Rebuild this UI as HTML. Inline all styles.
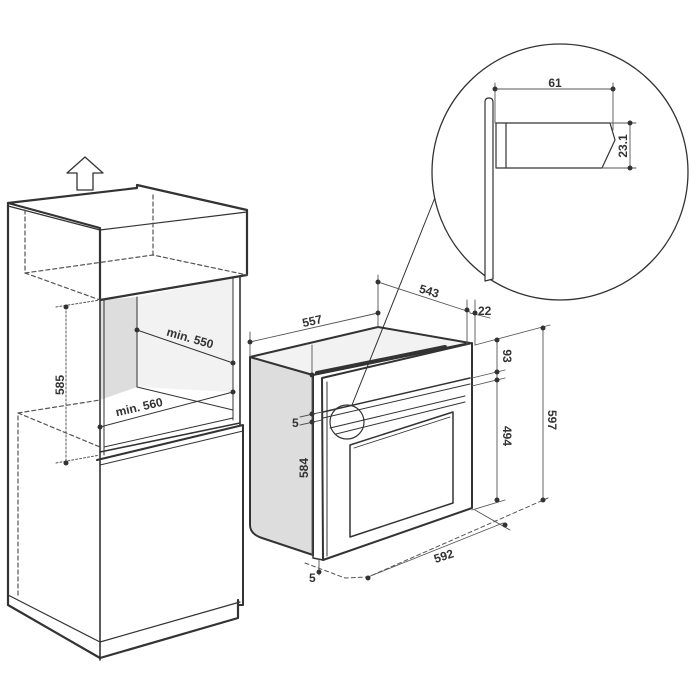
<!DOCTYPE html>
<html><head><meta charset="utf-8"><style>
html,body{margin:0;padding:0;background:#fff;}
svg{display:block;}
text{font-family:"Liberation Sans",Arial,sans-serif;font-weight:bold;fill:#333;font-size:12px;}
</style></head><body>
<svg width="700" height="700" viewBox="0 0 700 700" xmlns="http://www.w3.org/2000/svg">
<g fill="none" stroke="#333" stroke-linejoin="round" stroke-linecap="round">
<!-- up arrow -->
<path d="M85,157 L103,173 L93,173 L93,190 L77,190 L77,173 L67,173 Z" stroke-width="1.3"/>

<!-- cabinet -->
<!-- cavity fills -->
<path d="M100,300 L137,297 L137,387 L100,400 Z" fill="#ddd" stroke="none"/>
<path d="M137,297 L233,278 L233,392 L137,387 Z" fill="#f2f2f2" stroke="none"/>
<!-- top box -->
<path d="M8,203 L137,188 L137,185 L247,210 L247,275 L100,300 L100,228 Z" fill="#fff" stroke-width="2.2"/>
<path d="M8,206 L100,230 L247,212" stroke-width="1.2"/>
<path d="M100,228 L100,300" stroke-width="1.5"/>
<!-- left side -->
<path d="M8,203 L8,605 L100,658 L238,618 L238,600" stroke-width="2.2"/>
<path d="M8,595 L100,642 L240,602" stroke-width="1.2"/>
<!-- mid frame -->
<path d="M100,300 L100,660" stroke-width="1.6"/>
<path d="M104,300 L104,455" stroke-width="1"/>
<path d="M240,276 L240,425" stroke-width="1.6"/>
<path d="M233,278 L233,420" stroke-width="1"/>
<path d="M137,297 L137,387" stroke-width="1"/>
<path d="M137,387 L233,410" stroke-width="1"/>
<path d="M100,452 L240,423" stroke-width="1.6"/>
<path d="M104,447 L233,418" stroke-width="1"/>
<!-- lower door -->
<path d="M97,460 L243,425 L243,605 L238,605" stroke-width="2"/>
<path d="M100,465 L243,431" stroke-width="1"/>
<!-- hidden lines -->
<g stroke-width="1.2" stroke-dasharray="4,3" stroke="#555">
<path d="M25,210 L25,273 L100,300"/>
<path d="M25,273 L153,255 L247,275"/>
<path d="M153,195 L153,255"/>
<path d="M18,595 L18,413 L100,400"/>
<path d="M18,413 L100,447"/>
</g>
<!-- 585 -->
<g stroke-width="1" stroke-dasharray="2,2" stroke="#555">
<path d="M66,307 L66,463"/>
<path d="M56,307 L100,300"/>
<path d="M56,463 L100,455"/>
</g>
<g fill="#333" stroke="none">
<circle cx="66" cy="307" r="2.5"/><circle cx="66" cy="463" r="2.5"/>
<circle cx="137" cy="330" r="2.5"/><circle cx="233" cy="363" r="2.5"/>
<circle cx="100" cy="427" r="2.5"/><circle cx="233" cy="392" r="2.5"/>
</g>
<path d="M137,330 L233,363" stroke-width="1"/>
<path d="M100,427 L233,392" stroke-width="1"/>

<!-- oven -->
<path d="M250,357 L313,375 L313,555 L262,538 Q250,534 250,525 Z" fill="#ddd" stroke-width="2"/>
<path d="M250,357 L378,327 L470,343 L313,375 Z" fill="#f2f2f2" stroke-width="2"/>
<path d="M317,373 L445,347" stroke-width="4"/>
<path d="M313,375 L313,558 L323,560" stroke-width="1.5"/>
<path d="M322,378 L472,343 L472,508 L323,560 Z" fill="#fff" stroke-width="2"/>
<path d="M327,382 L327,556" stroke-width="1"/>
<path d="M323,412 L470,378" stroke-width="1.5"/>
<path d="M323,418 L470,384" stroke-width="1"/>
<path d="M330,428 L465,396" stroke-width="1"/>
<path d="M336,434 L465,402" stroke-width="1"/>
<path d="M350,445 L453,412 L453,503 L350,537 Z" stroke-width="1.5"/>
<path d="M354,448 L450,417" stroke-width="0.8"/>
<circle cx="347" cy="422" r="17" stroke-width="1.2" fill="none"/>
<path d="M352,405 L436,195" stroke-width="1"/>

<!-- oven dimensions -->
<g stroke-width="0.9" stroke="#555">
<path d="M250,332 L250,357"/>
<path d="M250,342 L378,313"/>
<path d="M378,275 L378,327"/>
<path d="M378,282 L470,312"/>
<path d="M467,300 L467,345"/>
<path d="M475,300 L475,345"/>
<path d="M470,313 L490,318"/>
<path d="M475,345 L550,325"/>
<path d="M497,340 L497,500"/>
<path d="M543,328 L543,500"/>
<path d="M472,378 L505,370"/>
<path d="M472,386 L505,378"/>
<path d="M472,510 L505,500"/>
<path d="M312,345 L312,555"/>
<path d="M300,417 L322,412"/>
<path d="M300,425 L322,420"/>
<path d="M319,560 L319,575"/>
<path d="M368,577 L503,523"/>
<path d="M475,510 L510,530"/>
</g>
<g stroke-width="1" stroke-dasharray="4,3" stroke="#555">
<path d="M305,563 L345,578 L368,577 L548,498"/>
</g>
<g fill="#333" stroke="none">
<circle cx="250" cy="342" r="2.5"/><circle cx="378" cy="313" r="2.5"/>
<circle cx="378" cy="282" r="2.5"/><circle cx="467" cy="310" r="2.5"/><circle cx="475" cy="313" r="2.5"/>
<circle cx="497" cy="340" r="2.5"/><circle cx="497" cy="372" r="2.5"/><circle cx="497" cy="380" r="2.5"/><circle cx="497" cy="500" r="2.5"/>
<circle cx="543" cy="328" r="2.5"/><circle cx="543" cy="500" r="2.5"/>
<circle cx="312" cy="375" r="2.5"/><circle cx="312" cy="414" r="2.5"/><circle cx="312" cy="422" r="2.5"/>
<circle cx="319" cy="572" r="2.5"/><circle cx="368" cy="578" r="2.5"/><circle cx="505" cy="525" r="2.5"/>
</g>

<!-- detail circle -->
<circle cx="560" cy="172" r="128" stroke-width="1.3" fill="#fff"/>
<path d="M485,102 Q485,98 489,98 Q493,98 493,102 L493,279 L485,281 Z" fill="#fff" stroke-width="1.2"/>
<path d="M496,123 L610,123 L615,140 L602,168 L496,168 Z" fill="#fff" stroke-width="1.2"/>
<path d="M506,123 L506,168" stroke-width="1.2"/>
<g stroke-width="0.9" stroke="#555">
<path d="M495,83 L495,123"/><path d="M613,83 L613,130"/>
<path d="M495,89 L613,89"/>
<path d="M610,123 L636,123"/><path d="M602,168 L636,168"/>
<path d="M630,123 L630,168"/>
</g>
<g fill="#333" stroke="none">
<circle cx="495" cy="89" r="2.5"/><circle cx="613" cy="89" r="2.5"/>
<circle cx="630" cy="123" r="2.5"/><circle cx="630" cy="168" r="2.5"/>
</g>
</g>

<!-- labels -->
<text x="555" y="87" text-anchor="middle">61</text>
<text transform="translate(627,146) rotate(-90)" text-anchor="middle">23.1</text>
<text transform="translate(64,385) rotate(-90)" text-anchor="middle">585</text>
<text transform="translate(189,342) rotate(16)" text-anchor="middle">min. 550</text>
<text transform="translate(140,411) rotate(-13)" text-anchor="middle">min. 560</text>
<text transform="translate(313,325) rotate(-12)" text-anchor="middle">557</text>
<text transform="translate(428,295) rotate(17)" text-anchor="middle">543</text>
<text x="478" y="315">22</text>
<text transform="translate(503,356) rotate(90)" text-anchor="middle">93</text>
<text transform="translate(503,436) rotate(90)" text-anchor="middle">494</text>
<text transform="translate(548,420) rotate(90)" text-anchor="middle">597</text>
<text x="292" y="427">5</text>
<text transform="translate(308,468) rotate(-90)" text-anchor="middle">584</text>
<text x="309" y="582">5</text>
<text transform="translate(445,560) rotate(-18)" text-anchor="middle">592</text>
</svg>
</body></html>
